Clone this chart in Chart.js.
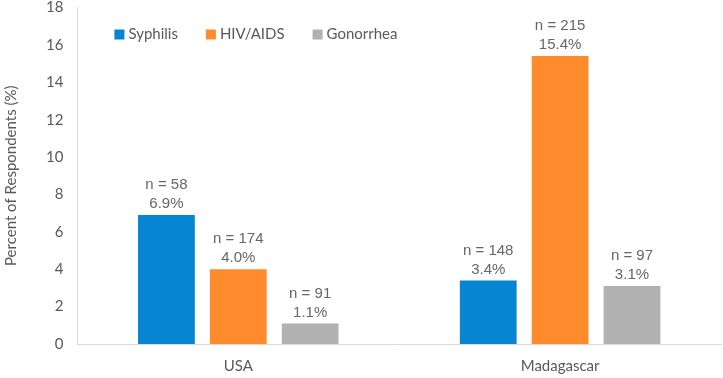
<!DOCTYPE html>
<html>
<head>
<meta charset="utf-8">
<script src="https://cdn.jsdelivr.net/npm/chart.js@4/dist/chart.umd.min.js"></script>
<style>
  html, body { margin: 0; padding: 0; background: #fff; }
  #wrap { width: 723px; height: 378px; }
</style>
</head>
<body>
<div id="wrap"><canvas id="stiChart" width="723" height="378"></canvas></div>
<script>
const countries = ['USA', 'Madagascar'];
const seriesNames = ['Syphilis', 'HIV/AIDS', 'Gonorrhea'];
const seriesColors = ['#0685d3', '#ff8b2d', '#b1b1b1'];
const percentValues = [
  [6.9, 3.4],   // Syphilis
  [4.0, 15.4],  // HIV/AIDS
  [1.1, 3.1]    // Gonorrhea
];
const respondentCounts = [
  [58, 148],
  [174, 215],
  [91, 97]
];
const yTicks = [0, 2, 4, 6, 8, 10, 12, 14, 16, 18];

// labels above each bar: "n = x" and "y%"
const barLabels = {
  id: 'barLabels',
  afterDatasetsDraw(chart) {
    const ctx = chart.ctx;
    ctx.save();
    ctx.fillStyle = '#666666';
    ctx.font = '15px "Liberation Sans", Arial, sans-serif';
    ctx.textAlign = 'center';
    ctx.textBaseline = 'middle';
    chart.data.datasets.forEach((ds, i) => {
      chart.getDatasetMeta(i).data.forEach((bar, j) => {
        ctx.fillText(ds.data[j].toFixed(1) + '%', bar.x, bar.y - 11);
        ctx.fillText('n = ' + respondentCounts[i][j], bar.x, bar.y - 30);
      });
    });
    ctx.restore();
  }
};

// legend drawn inside the plot, top left
const insideLegend = {
  id: 'insideLegend',
  afterDraw(chart) {
    const ctx = chart.ctx;
    const area = chart.chartArea;
    ctx.save();
    ctx.font = '15px Lato, "Open Sans", sans-serif';
    ctx.textBaseline = 'middle';
    let x = area.left + 37;
    const y = area.top + 27;
    seriesNames.forEach((name, i) => {
      ctx.fillStyle = seriesColors[i];
      ctx.fillRect(x, y - 5, 10, 10);
      ctx.fillStyle = '#595959';
      ctx.fillText(name, x + 14, y);
      x += 14 + ctx.measureText(name).width + 28;
    });
    ctx.restore();
  }
};

const tickFont = { family: 'Lato, "Open Sans", sans-serif', size: 15, lineHeight: 1 };

new Chart(document.getElementById('stiChart').getContext('2d'), {
  type: 'bar',
  data: {
    labels: countries,
    datasets: seriesNames.map((name, i) => ({
      label: name,
      data: percentValues[i],
      backgroundColor: seriesColors[i],
      barPercentage: 0.79,
      categoryPercentage: 0.67
    }))
  },
  options: {
    responsive: false,
    animation: false,
    layout: { autoPadding: false, padding: { left: 0, right: 2, top: 7, bottom: 0 } },
    plugins: {
      legend: { display: false },
      tooltip: { enabled: false }
    },
    scales: {
      x: {
        grid: { display: false, drawTicks: true, tickLength: 15 },
        border: { color: '#d9d9d9', width: 1 },
        ticks: { color: '#595959', font: tickFont, padding: 0 },
        afterFit(scale) { scale.height = 34; }
      },
      y: {
        min: 0,
        max: 18,
        afterBuildTicks(axis) {
          axis.ticks = yTicks.map(v => ({ value: v }));
        },
        grid: { display: false, drawTicks: true, tickLength: 14 },
        border: { color: '#d9d9d9', width: 1 },
        ticks: { color: '#595959', font: tickFont, padding: 0 },
        title: {
          display: true,
          text: 'Percent of Respondents (%)',
          color: '#595959',
          font: { family: 'Lato, "Open Sans", sans-serif', size: 15 },
          padding: { top: 2, bottom: 26 }
        }
      }
    }
  },
  plugins: [barLabels, insideLegend]
});
</script>
</body>
</html>
